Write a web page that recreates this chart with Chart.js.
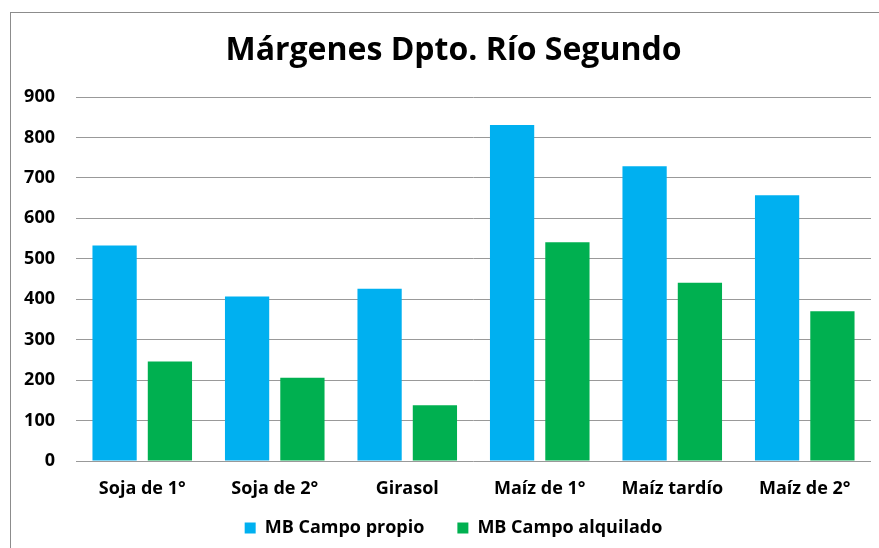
<!DOCTYPE html>
<html>
<head>
<meta charset="utf-8">
<script src="https://cdn.jsdelivr.net/npm/chart.js@4/dist/chart.umd.min.js"></script>
<style>
  html, body { margin: 0; padding: 0; background: #fff; overflow: hidden; }
  #wrap { position: relative; width: 879px; height: 548px; }
</style>
</head>
<body>
<div id="wrap"><canvas id="c" width="879" height="548"></canvas></div>
<script>
const titleText = 'Márgenes Dpto. Río Segundo';
const categories = ['Soja de 1°', 'Soja de 2°', 'Girasol', 'Maíz de 1°', 'Maíz tardío', 'Maíz de 2°'];
const seriesNames = ['MB Campo propio', 'MB Campo alquilado'];
const campoPropio = [533, 407, 426, 831, 729, 657];
const campoAlquilado = [246, 206, 138, 541, 441, 370];
const yTicks = [0, 100, 200, 300, 400, 500, 600, 700, 800, 900];

const FONT = '"Open Sans", "DejaVu Sans", sans-serif';

const frame = {
  id: 'frame',
  afterLayout(chart) {
    const x = chart.scales.x;
    x.bottom = x.top + 45;
  },
  beforeDraw(chart) {
    const ctx = chart.ctx;
    ctx.save();
    ctx.fillStyle = '#fff';
    ctx.fillRect(0, 0, chart.width, chart.height);
    ctx.strokeStyle = '#8c8c8c';
    ctx.lineWidth = 1;
    ctx.strokeRect(10.5, 12.5, 1000, 1000);
    ctx.restore();
  }
};

new Chart(document.getElementById('c'), {
  type: 'bar',
  data: {
    labels: categories,
    datasets: [
      { label: seriesNames[0], data: campoPropio, backgroundColor: '#00B0F0', yAxisID: 'y' },
      { label: seriesNames[1], data: campoAlquilado, backgroundColor: '#00B050', yAxisID: 'y' }
    ]
  },
  options: {
    responsive: false,
    animation: false,
    categoryPercentage: 0.835,
    barPercentage: 0.8,
    layout: { padding: { left: 10, right: -18, top: 0, bottom: 1 } },
    plugins: {
      title: {
        display: true,
        text: titleText,
        color: '#000',
        font: { family: FONT, size: 32, weight: 'bold' },
        padding: { top: 32, bottom: 26.6 }
      },
      legend: {
        position: 'bottom',
        labels: {
          boxWidth: 11, boxHeight: 11,
          padding: 33,
          color: '#000',
          font: { family: FONT, size: 18, weight: 'bold' }
        }
      },
      tooltip: { enabled: false }
    },
    scales: {
      x: {
        grid: { display: false, drawTicks: false },
        border: { display: false },
        ticks: { color: '#000', padding: 17, font: { family: FONT, size: 18, weight: 'bold' } },
        afterFit(s) { s.height = 25; }
      },
      y: {
        min: 0, max: 900,
        afterBuildTicks(s) { s.ticks = yTicks.map(v => ({ value: v })); },
        grid: { color: '#999', lineWidth: 1, drawTicks: false },
        border: { display: false },
        ticks: { color: '#000', padding: 21, font: { family: FONT, size: 18, weight: 'bold' } },
        afterFit(s) { s.width = 66; }
      },
      y2: {
        position: 'right',
        display: true,
        grid: { display: false, drawTicks: false },
        border: { display: false },
        ticks: { display: false },
        afterFit(s) { s.width = 26; }
      }
    }
  },
  plugins: [frame]
});
</script>
</body>
</html>
